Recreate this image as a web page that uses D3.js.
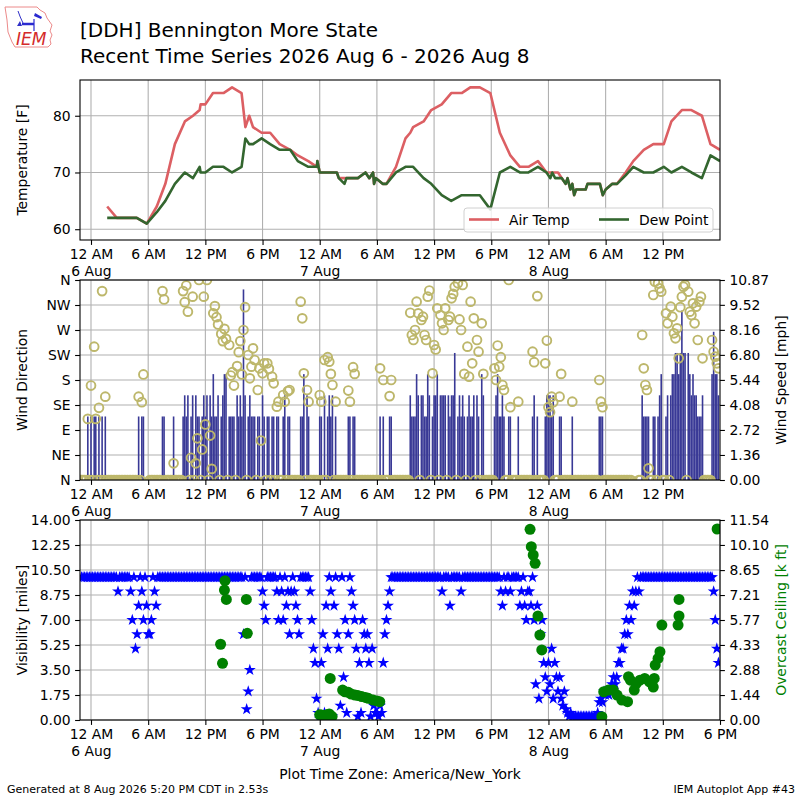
<!DOCTYPE html>
<html>
<head>
<meta charset="utf-8">
<script src="https://cdn.jsdelivr.net/npm/d3@7"></script>
<style>
  body { margin: 0; background: #fff; }
  svg { display: block; }
  text { font-family: "DejaVu Sans", sans-serif; }
</style>
</head>
<body>
<svg id="chart" width="800" height="800"></svg>
<script>
// ---- temperature obs (hours after 12 AM 6 Aug, America/New_York) ----
const tempHour = [1.7, 2.7, 4.8, 5.85, 6.9, 7.8, 8.8, 9.85, 10.7, 11.4, 11.5, 12.0, 12.8, 13.9, 14.8, 15.8,
  16.2, 16.6, 17.0, 17.9, 18.8, 19.8, 20.9, 21.7, 22.8, 23.7, 23.75, 24.0, 24.5, 25.8, 26.0, 26.6, 26.8,
  28.0, 28.8, 29.2, 29.6, 29.7, 29.9, 30.6, 31.0, 32.0, 33.0, 33.5, 33.8, 34.9, 35.7, 36.8, 37.8, 38.9,
  39.8, 40.8, 41.9, 42.9, 44.0, 45.0, 45.9, 46.9, 47.8, 48.2, 48.4, 48.7, 49.0, 49.4, 49.8, 50.0, 50.3,
  50.5, 50.7, 50.9, 51.9, 52.1, 53.4, 53.7, 54.0, 54.7, 55.2, 56.1, 56.9, 58.0, 59.0, 60.1, 60.9, 62.0,
  63.0, 64.1, 65.0, 66.0];
const airTemp = [64, 62, 62, 61, 64, 68, 75, 79, 80, 81, 82, 82, 84, 84, 85, 84,
  78, 80, 78, 77, 77, 75, 74, 73, 72, 71, 72, 70, 70, 70, 69, 69, 69,
  69, 70, 69, 70, 68, 69, 68, 68, 71, 76, 77, 78, 79, 81, 82, 84, 84,
  85, 85, 84, 77, 73, 71, 71, 72, 70, 70, 70, 70, 70, 69, 68, 69, 67,
  68, 66, 67, 67, 68, 68, 66, 67, 68, 68, 70, 72, 74, 75, 75, 79, 81,
  81, 80, 75, 74];
const dewPoint = [62, 62, 62, 61, 63, 65, 68, 70, 69, 71, 70, 70, 71, 71, 70, 71,
  76, 75, 75, 76, 75, 74, 74, 72, 71, 71, 72, 70, 70, 70, 69, 68, 69,
  69, 70, 69, 70, 68, 69, 68, 68, 70, 71, 71, 71, 69, 68, 66, 65, 66,
  66, 66, 63.5, 70, 71, 70, 70, 71, 70, 69, 70, 69, 69, 69, 68, 69, 67,
  68, 66, 67, 67, 68, 68, 66, 67, 68, 68, 69.5, 71, 70, 70, 71, 70, 71,
  70, 69, 73, 72];

// ---- 10 minute obs, first one at 11 PM 5 Aug, one row per hour ----
// wind speed [kt], null = no report
const windKt = [
  0,0,0,0,3,0,  3,0,3,3,0,3,  0,3,0,3,0,0,  0,0,0,0,0,0,  0,0,0,0,0,0,  0,0,0,0,0,0,
  3,0,3,3,null,null,  null,0,0,0,0,0,  0,0,0,3,3,0,  0,0,0,0,3,0,  0,0,0,0,3,4,
  3,4,0,3,4,0,  4,3,3,0,3,4,  3,4,0,4,3,5,  3,3,4,0,3,4,  5,5,0,3,3,3,  3,0,4,3,4,3,
  9,4,0,3,4,3,  3,3,0,3,3,0,  4,3,0,3,3,0,  3,3,0,3,3,0,  0,3,4,0,3,3,  0,0,0,0,0,0,
  3,3,5,0,4,3,  0,0,0,0,0,0,
  // 7 Aug
  3,3,0,4,0,3,  4,3,4,0,3,0,  0,0,0,0,0,0,  3,3,0,3,3,0,  0,0,0,0,0,0,  0,0,0,0,0,0,
  0,0,3,0,3,0,  0,0,3,3,0,0,  0,0,0,0,0,0,  0,0,0,4,3,3,  3,5,4,0,4,4,  3,3,5,4,0,3,
  4,4,5,0,4,4,  4,4,0,4,3,4,  4,6,0,3,4,3,  4,3,0,3,4,3,  3,4,0,4,3,0,  5,4,0,0,0,0,
  0,0,3,4,5,3,  3,4,3,0,0,3,  3,0,0,0,0,3,  0,0,0,0,0,0,  0,0,3,4,0,3,  0,0,0,0,3,4,
  // 8 Aug
  4,4,3,4,0,0,  0,3,3,0,0,0,  0,0,0,3,0,0,  0,0,0,0,0,0,  0,0,0,0,0,0,  0,0,3,3,3,0,
  0,0,0,0,0,0,  0,0,0,0,0,0,  0,0,0,0,0,null,  null,null,null,0,0,4,  3,3,3,3,0,0,
  3,3,0,3,4,5,  0,0,3,4,0,4,  5,5,6,6,5,6,  8,6,6,0,6,5,  4,5,4,4,3,3,  3,4,0,0,0,0,
  0,5,7,5,5,4
];
// wind direction [deg], 0 when calm
const windDir = [
  0,0,0,0,110,0,  170,0,240,110,0,130,  0,340,0,150,0,0,  0,0,0,0,0,0,  0,0,0,0,0,0,  0,0,0,0,0,0,
  150,0,140,190,0,0,  0,0,0,0,0,0,  0,0,0,340,325,0,  0,0,0,0,30,0,  0,0,0,0,340,320,
  350,303,0,40,330,0,  30,75,360,0,55,330,  100,360,0,80,20,300,  313,293,280,0,263,250,
  272,254,0,243,188,194,  170,0,205,230,250,190,  270,311,0,225,183,204,  237,216,0,162,201,71,
  192,210,0,210,200,0,  186,174,0,132,141,0,  0,153,141,0,160,162,  0,0,0,0,0,0,
  321,291,192,0,162,141,  0,0,0,0,0,0,
  // 7 Aug
  153,141,0,216,0,221,  213,191,171,0,141,0,  0,0,0,0,0,0,  161,141,0,203,191,0,
  0,0,0,0,0,0,  0,0,0,0,0,0,  0,0,201,0,180,0,  0,0,151,180,0,0,  0,0,0,0,0,0,
  0,0,0,301,261,252,  270,321,300,0,288,294,  261,252,330,341,0,192,  243,235,309,0,297,282,
  270,309,0,288,294,327,  335,348,0,354,289,270,  351,191,0,240,186,321,  210,291,0,252,231,0,
  282,191,0,0,0,0,  0,0,201,180,242,204,  221,171,162,0,0,360,  131,0,0,0,0,141,
  0,0,0,0,0,0,  0,0,231,212,0,331,  0,0,0,0,210,251,
  // 8 Aug
  131,122,150,140,0,0,  0,150,191,0,0,0,  0,0,0,141,0,0,  0,0,0,0,0,0,  0,0,0,0,0,0,
  0,0,180,141,131,0,  0,0,0,0,0,0,  0,0,0,0,0,0,  0,0,0,0,0,0,  0,0,0,0,0,261,
  201,171,162,21,0,0,  333,357,0,354,345,339,  0,0,300,282,0,312,  294,264,255,273,219,311,
  330,348,351,0,339,303,  297,318,282,312,252,321,  330,219,0,0,0,0,  0,252,231,222,210,201
];
// visibility [miles]
const visibility = [
  10,10,10,10,10,10,  10,10,10,10,10,10,  10,10,10,10,10,10,  10,10,10,10,10,9,
  10,10,10,10,10,10,  10,9,7,10,5,6,  8,10,9,7,10,8,  6,6,7,10,9,8,
  10,10,10,10,10,10,  10,10,10,10,10,10,  10,10,10,10,10,10,  10,10,10,10,10,10,
  10,10,10,10,10,10,  10,10,10,10,10,10,  10,10,10,10,10,10,  10,10,10,10,10,10,
  10,10,10,10,10,10,  6,10,0.75,2,3.5,10,  10,10,10,10,10,10,  9,8,7,10,10,10,
  10,10,10,9,7,10,  9,7,10,8,9,6,  9,10,9,8,7,6,  10,10,10,10,10,10,  9,7,5,4,1.5,0.5,
  // 7 Aug
  0.25,4,6,0.5,8,5,  10,9,0.25,8,10,6,  5,1,10,3,7,0.5,  6,10,9,8,7,5,
  0.25,4,0.5,7,6,5,  6,4,0.25,5,1,0.5,  0.5,0.25,1,0.5,4,6,  7,8,9,10,10,10,
  10,10,10,10,10,10,  10,10,10,10,10,10,  10,10,10,10,10,10,  10,10,10,10,10,10,
  10,10,10,10,10,9,  10,10,10,10,8,10,  10,10,10,10,10,9,  10,10,10,10,10,10,
  10,10,10,10,10,10,  10,10,10,10,10,10,  10,10,10,10,10,10,  9,8,10,9,10,10,
  9,10,10,10,10,10,  8,9,10,8,7,9,  9,8,10,7,2.5,8,  1.5,6,7,4,3,2,
  // 8 Aug
  4,2.5,5,1.5,4,3,  2,3,1.5,1,2,0.75,  0.5,0.25,0.5,0.25,0.25,0.25,
  0.25,0.25,0.25,0.25,0.25,0.25,  0.25,0.25,0.25,0.25,0.25,0.25,  0.25,0.5,1.25,1.5,1.25,2,
  1.75,2,1.75,2,2.5,3,  2.5,3,4,4,5,5,  6,7,6,8,7,9,  8,9,10,9,10,10,
  10,10,10,10,10,10,  10,10,10,10,10,10,  10,10,10,10,10,10,  10,10,10,10,10,10,
  10,10,10,10,10,10,  10,10,10,10,10,10,  10,10,10,10,10,10,  10,10,9,7,5,4
];

// ---- overcast ceiling reports ----
const ceilHour = [13.6, 13.8, 14.0, 14.06, 14.2, 16.3, 16.4, 24.0, 24.2, 24.3, 24.5, 24.7, 24.8, 25.0,
  25.1, 25.3, 26.4, 26.65, 27.0, 27.3, 27.7, 28.0, 28.4, 28.8, 29.1, 29.6, 30.0, 30.3,
  46.07, 46.2, 46.4, 46.6, 46.9, 47.1, 47.3, 53.6, 53.8, 54.3, 54.8, 55.2, 55.7, 56.3, 56.4,
  56.6, 57.0, 57.2, 57.6, 58.1, 58.6, 59.0, 59.1, 59.2, 59.5, 59.7, 59.9, 61.6, 61.7, 61.7, 65.7];
const ceilKft = [4.37, 3.27, 7.5, 8.04, 6.96, 6.96, 5.0, 0.3, 0.29, 0.25, 0.2, 0.29, 0.3, 0.35,
  2.4, 0.2, 1.73, 1.63, 1.6, 1.5, 1.44, 1.42, 1.35, 1.3, 1.25, 1.15, 1.1, 1.06,
  11.0, 10.0, 9.52, 9.04, 6.0, 4.9, 4.04, 0.19, 1.63, 1.73, 1.73, 1.44, 1.15, 1.06, 2.5,
  2.3, 1.73, 2.1, 2.3, 2.4, 2.2, 1.9, 2.4, 3.17, 3.55, 3.94, 5.48, 5.48, 6.0, 6.96, 11.02];

// ---- tick labels ----
const tempTicks = [60, 70, 80];
const dirTicks = [0, 45, 90, 135, 180, 225, 270, 315, 360];
const dirLabels = ["N", "NE", "E", "SE", "S", "SW", "W", "NW", "N"];
const speedTicks = [0, 1.36, 2.72, 4.08, 5.44, 6.80, 8.16, 9.52, 10.87];
const visTicks = [0, 1.75, 3.5, 5.25, 7, 8.75, 10.5, 12.25, 14];
const ceilTicks = [0, 1.44, 2.88, 4.33, 5.77, 7.21, 8.65, 10.10, 11.54];

// ---------------------------------------------------------------
const svg = d3.select("#chart");
const FS = 13.9;
const X0 = 80, X1 = 720;
const base = Date.UTC(2026, 7, 6);
const at = h => new Date(base + h * 3600e3);
const obsStart = Date.UTC(2026, 7, 5, 23, 0);
const obsTime = i => new Date(obsStart + i * 600e3);

const x = d3.scaleUtc().domain([at(-1.154), at(66)]).range([X0, X1]);
const xTicks = d3.utcHour.every(6).range(at(0), at(66.01));
const topTicks = xTicks.filter(t => t < at(66));

const P1 = { top: 80, bottom: 240 }, P2 = { top: 280, bottom: 480 }, P3 = { top: 520, bottom: 720 };

const yTemp = d3.scaleLinear().domain([58.1, 86.3]).range([P1.bottom, P1.top]);
const yDir = d3.scaleLinear().domain([0, 360]).range([P2.bottom, P2.top]);
const ySpd = d3.scaleLinear().domain([0, 10.87]).range([P2.bottom, P2.top]);
const yVis = d3.scaleLinear().domain([0, 14]).range([P3.bottom, P3.top]);
const yCeil = d3.scaleLinear().domain([0, 11.54]).range([P3.bottom, P3.top]);

const defs = svg.append("defs");
[P1, P2, P3].forEach((p, i) => {
  defs.append("clipPath").attr("id", "clip" + i)
    .append("rect").attr("x", X0).attr("y", p.top).attr("width", X1 - X0).attr("height", p.bottom - p.top);
});

function grid(p, yScale, yVals, xVals) {
  const g = svg.append("g").attr("stroke", "#b0b0b0").attr("stroke-width", 1.1);
  g.selectAll(".v").data(xVals).enter().append("line")
    .attr("x1", d => x(d)).attr("x2", d => x(d)).attr("y1", p.top).attr("y2", p.bottom);
  g.selectAll(".h").data(yVals).enter().append("line")
    .attr("x1", X0).attr("x2", X1).attr("y1", d => yScale(d)).attr("y2", d => yScale(d));
}

function xAxis(p, vals) {
  const g = svg.append("g").attr("transform", `translate(0,${p.bottom})`)
    .call(d3.axisBottom(x).tickValues(vals).tickSize(4.9).tickSizeOuter(0).tickPadding(4.5)
      .tickFormat(d3.utcFormat("%-I %p")));
  g.select(".domain").remove();
  g.selectAll(".tick line").attr("stroke", "#000").attr("stroke-width", 1.1);
  g.selectAll(".tick text").attr("font-size", FS).attr("font-family", "DejaVu Sans").attr("fill", "#000")
    .each(function (d) {
      if (d.getUTCHours() === 0) {
        d3.select(this).append("tspan").attr("x", 0).attr("dy", "1.2em").text(d3.utcFormat("%-d %b")(d));
      }
    });
}

function yAxis(scale, side, vals, fmt) {
  const ax = side === "left" ? d3.axisLeft(scale) : d3.axisRight(scale);
  const g = svg.append("g").attr("transform", `translate(${side === "left" ? X0 : X1},0)`)
    .call(ax.tickValues(vals).tickSize(4.9).tickSizeOuter(0).tickPadding(4.5).tickFormat(fmt));
  g.select(".domain").remove();
  g.selectAll(".tick line").attr("stroke", "#000").attr("stroke-width", 1.1);
  g.selectAll(".tick text").attr("font-size", FS).attr("font-family", "DejaVu Sans").attr("fill", "#000");
}

function frame(p) {
  svg.append("rect").attr("x", X0).attr("y", p.top).attr("width", X1 - X0).attr("height", p.bottom - p.top)
    .attr("fill", "none").attr("stroke", "#000").attr("stroke-width", 1.1);
}

function yLabel(text, xPos, p, color) {
  svg.append("text").attr("transform", `translate(${xPos},${(p.top + p.bottom) / 2}) rotate(-90)`)
    .attr("text-anchor", "middle").attr("dominant-baseline", "central")
    .attr("font-size", FS).attr("fill", color || "#000").text(text);
}

// ---- panel 1: temperatures ----
grid(P1, yTemp, tempTicks, topTicks);
const tempRows = tempHour.map((h, i) => ({ t: at(h), air: airTemp[i], dew: dewPoint[i] }));
const c1 = svg.append("g").attr("clip-path", "url(#clip0)");
c1.append("path").datum(tempRows).attr("fill", "none").attr("stroke", "#dc5f63").attr("stroke-width", 2.6)
  .attr("stroke-linejoin", "round").attr("d", d3.line().x(d => x(d.t)).y(d => yTemp(d.air)));
c1.append("path").datum(tempRows).attr("fill", "none").attr("stroke", "#33662f").attr("stroke-width", 2.6)
  .attr("stroke-linejoin", "round").attr("d", d3.line().x(d => x(d.t)).y(d => yTemp(d.dew)));
frame(P1);
xAxis(P1, topTicks);
yAxis(yTemp, "left", tempTicks, d3.format("d"));
yLabel("Temperature [F]", 22, P1);

// legend
const lg = svg.append("g").attr("transform", "translate(464,208)");
lg.append("rect").attr("width", 249).attr("height", 24).attr("rx", 3)
  .attr("fill", "#fff").attr("fill-opacity", 0.8).attr("stroke", "#d0d0d0");
[["Air Temp", "#dc5f63", 5], ["Dew Point", "#33662f", 135]].forEach(([name, col, off]) => {
  lg.append("line").attr("x1", off).attr("x2", off + 30).attr("y1", 11.5).attr("y2", 11.5)
    .attr("stroke", col).attr("stroke-width", 2.6);
  lg.append("text").attr("x", off + 40).attr("y", 11.5).attr("dominant-baseline", "central")
    .attr("font-size", FS).text(name);
});

// ---- panel 2: wind ----
grid(P2, yDir, dirTicks, topTicks);
const windObs = windKt.map((kt, i) => ({ t: obsTime(i), kt, dir: windDir[i] })).filter(d => d.kt !== null);
const c2 = svg.append("g").attr("clip-path", "url(#clip1)");
c2.selectAll(".bar").data(windObs.filter(d => d.kt > 0)).enter().append("rect")
  .attr("x", d => x(d.t) - 0.8).attr("width", 1.6)
  .attr("y", d => ySpd(d.kt * 1.15078)).attr("height", d => P2.bottom - ySpd(d.kt * 1.15078))
  .attr("fill", "#393996");
c2.selectAll(".dir").data(windObs).enter().append("circle")
  .attr("cx", d => x(d.t)).attr("cy", d => yDir(d.dir)).attr("r", 4.4)
  .attr("fill", "none").attr("stroke", "#bdb76b").attr("stroke-width", 1.9);
frame(P2);
xAxis(P2, topTicks);
yAxis(yDir, "left", dirTicks, (d, i) => dirLabels[i]);
yAxis(ySpd, "right", speedTicks, d3.format(".2f"));
yLabel("Wind Direction", 22, P2);
yLabel("Wind Speed [mph]", 781, P2);

// ---- panel 3: visibility and ceiling ----
grid(P3, yVis, visTicks, xTicks);
const c3 = svg.append("g").attr("clip-path", "url(#clip2)");
const star = d3.symbol().type(d3.symbolStar).size(44);
c3.selectAll(".vis").data(visibility.map((v, i) => ({ t: obsTime(i), v }))).enter().append("path")
  .attr("d", star).attr("transform", d => `translate(${x(d.t)},${yVis(d.v)})`).attr("fill", "#0000ff");
c3.selectAll(".ceil").data(ceilHour.map((h, i) => ({ t: at(h), c: ceilKft[i] }))).enter().append("circle")
  .attr("cx", d => x(d.t)).attr("cy", d => yCeil(d.c)).attr("r", 5.5).attr("fill", "#008000");
frame(P3);
xAxis(P3, xTicks);
yAxis(yVis, "left", visTicks, d3.format(".2f"));
yAxis(yCeil, "right", ceilTicks, d3.format(".2f"));
yLabel("Visibility [miles]", 22, P3);
yLabel("Overcast Ceiling [k ft]", 781, P3, "#008000");

svg.append("text").attr("x", 400).attr("y", 779).attr("text-anchor", "middle")
  .attr("font-size", FS).text("Plot Time Zone: America/New_York");

// ---- titles and footer ----
svg.append("text").attr("x", 80).attr("y", 37).attr("font-size", 20).text("[DDH] Bennington More State");
svg.append("text").attr("x", 80).attr("y", 63).attr("font-size", 20).text("Recent Time Series 2026 Aug 6 - 2026 Aug 8");
svg.append("text").attr("x", 7).attr("y", 793).attr("font-size", 11).text("Generated at 8 Aug 2026 5:20 PM CDT in 2.53s");
svg.append("text").attr("x", 795).attr("y", 793).attr("text-anchor", "end").attr("font-size", 11).text("IEM Autoplot App #43");

// ---- IEM logo ----
const logo = svg.append("g");
logo.append("path")
  .attr("d", "M5,7 L37,7 L40,10 L45,13 L47,18 L52,25 L50,31 L52,35 L50,40 L51,44 L48,47 L15,47 L12,42 L8,32 L7,20 Z")
  .attr("fill", "none").attr("stroke", "#ec8a8a").attr("stroke-width", 1);
logo.append("path").attr("d", "M18,11 Q20,17 23,23").attr("fill", "none").attr("stroke", "#3030c8").attr("stroke-width", 1);
logo.append("line").attr("x1", 22).attr("x2", 34).attr("y1", 24).attr("y2", 24).attr("stroke", "#2a2ad0").attr("stroke-width", 2.5);
logo.append("path").attr("d", "M17,26 L20,21 L22,26 Z").attr("fill", "#3030c8");
logo.append("path").attr("d", "M35,13 L42,17 L41,19 L34,16 Z").attr("fill", "#2a2ad0");
logo.append("line").attr("x1", 34).attr("x2", 34).attr("y1", 19).attr("y2", 31).attr("stroke", "#2a2ad0").attr("stroke-width", 1.2);
logo.append("text").attr("x", 16).attr("y", 45).attr("font-family", "Liberation Serif, DejaVu Serif, serif")
  .attr("font-style", "italic").attr("font-size", 17).attr("fill", "#d42a2a").text("IEM");
</script>
</body>
</html>
